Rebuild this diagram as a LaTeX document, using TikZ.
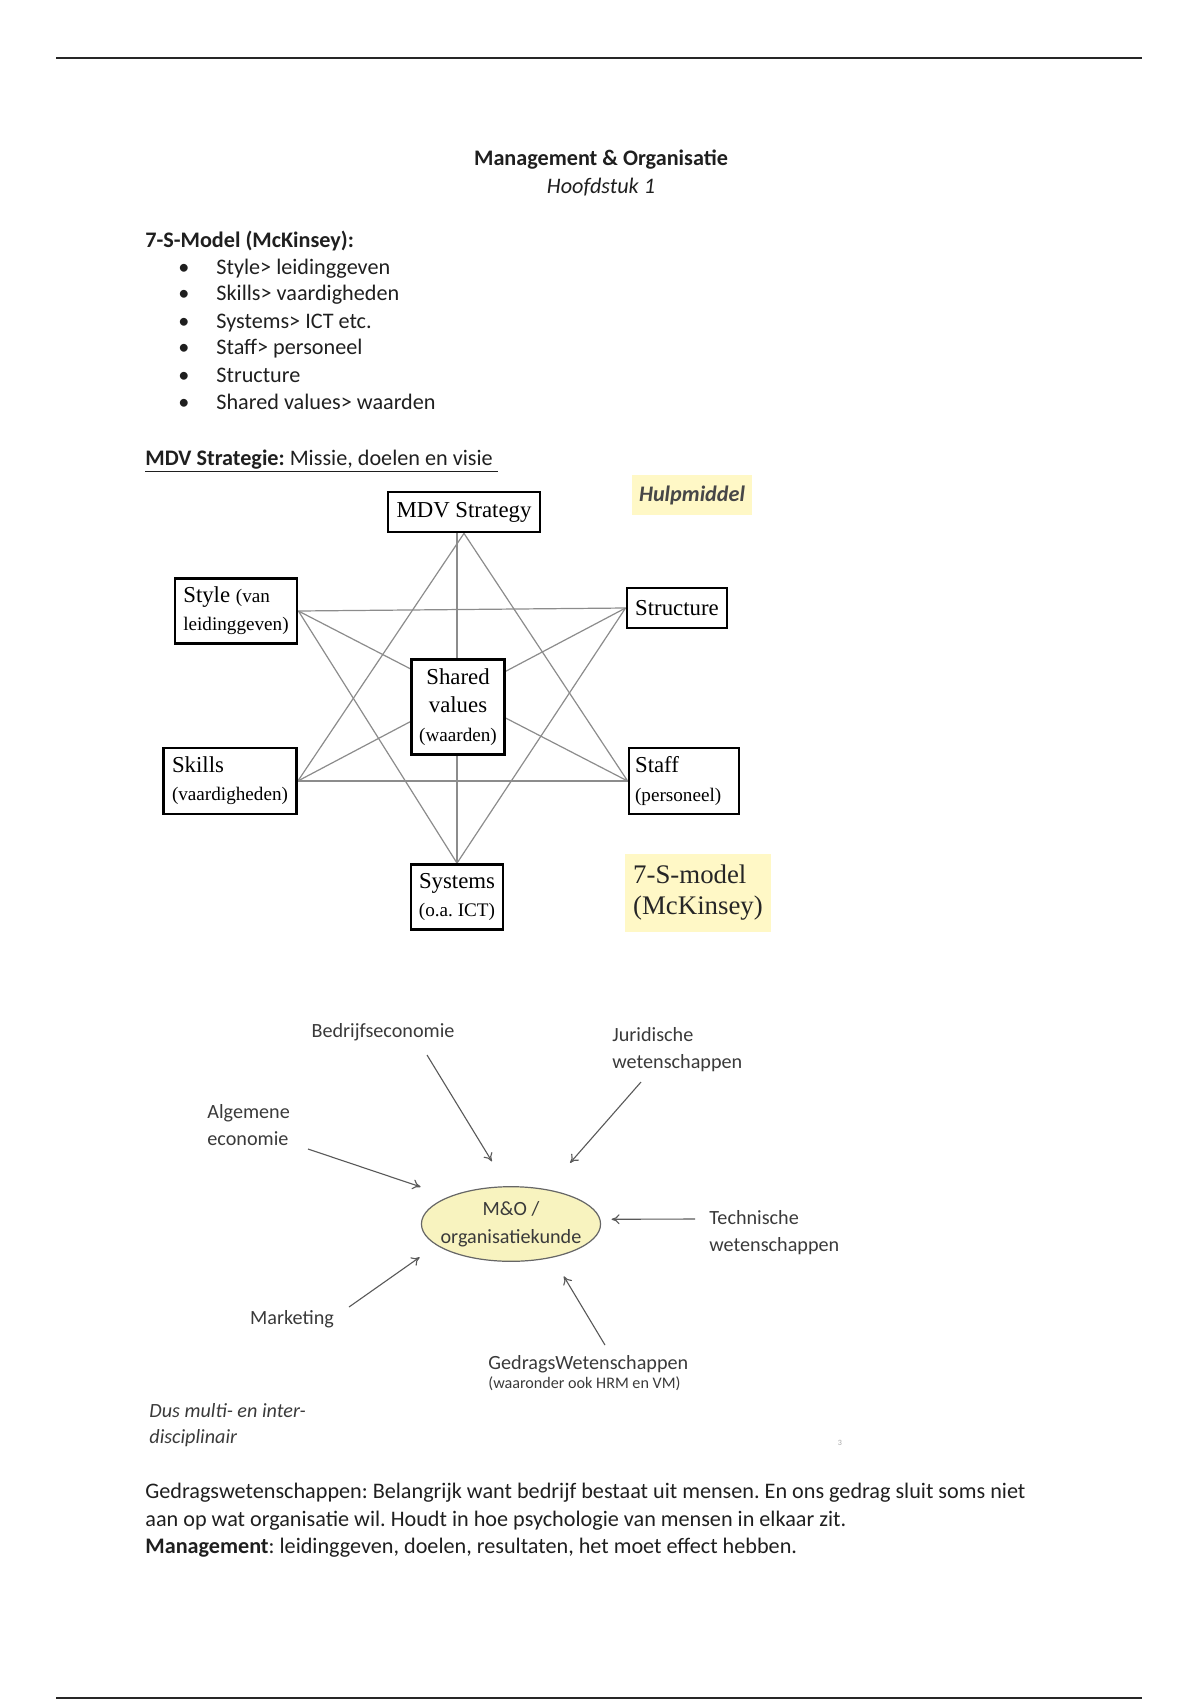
\documentclass[tikz,border=0pt]{standalone}
\usepackage{fontspec}
\setmainfont{Carlito}
\newfontfamily\tnr{Liberation Serif}
\usepackage{tikz}
\usetikzlibrary{shapes.geometric,arrows.meta,backgrounds}
\definecolor{hlyellow}{HTML}{FFF8C6}
\definecolor{mofill}{HTML}{F8F3BF}
\definecolor{labelgray}{HTML}{3A3A3A}
\newcommand\smtnr{\fontsize{9.5}{14}\selectfont}
\frenchspacing

\begin{document}
\begin{tikzpicture}[x=0.4958pt,y=-0.4958pt,
  txt/.style={anchor=base west,inner sep=0pt,font=\fontsize{11}{13.5}\selectfont,text=black!88},
  sbox/.style={draw,rectangle,line width=1.4pt,fill=white,inner sep=0pt,font=\tnr\fontsize{11.3}{14}\selectfont},
  sline/.style={draw=black!45,line width=0.6pt},
  hl/.style={fill=hlyellow,inner sep=0pt},
  lbl/.style={inner sep=0pt,font=\fontsize{10}{13.4}\selectfont,text=labelgray,align=left},
  arr/.style={draw=black!65,line width=0.55pt,-{To[length=4pt,width=5pt]}}]
\useasboundingbox (0,0) rectangle (1200,1700);
% page rules
\draw[line width=1.1pt,black!85] (56,58) -- (1142,58);
\draw[line width=1.1pt,black!85] (56,1698) -- (1142,1698);

% header
\node [txt,anchor=base,font=\bfseries\fontsize{11}{13.5}\selectfont] (title) at(601,165){Management \& Organisatie};
\node [txt,anchor=base,font=\itshape\fontsize{11}{13.5}\selectfont] (chapter) at(601,193){Hoofdstuk 1};

% 7-S list
\node [txt,font=\bfseries\fontsize{11}{13.5}\selectfont] (smodel) at(145,247){7-S-Model (McKinsey):};
\foreach \yb/\itm [count=\i] in {274/Style> leidinggeven,300/Skills> vaardigheden,328/Systems> ICT etc.,354/Staff> personeel,382/Structure,409/Shared values> waarden}{
  \node [txt,anchor=base] (dot\i) at(184,\yb){\textbullet};
  \node [txt] (item\i) at(216,\yb){\itm};
}
\node [txt] (mdvline) at(145,465){\underline{\textbf{MDV Strategie:} Missie, doelen en visie\ }};

% 7-S model
\node [sbox,minimum width=75.4pt,minimum height=19.8pt] (mdv) at(464,512){MDV Strategy};
\node [sbox,minimum width=60.5pt,minimum height=32.2pt,align=left] (style) at(236,611){Style {\smtnr (van}\\{\smtnr leidinggeven)}};
\node [sbox,minimum width=49.6pt,minimum height=19.8pt] (structure) at(677,608){Structure};
\node [sbox,minimum width=46.1pt,minimum height=47.1pt,align=center] (shared) at(458,707){Shared\\values\\{\smtnr (waarden)}};
\node [sbox,minimum width=65.9pt,minimum height=32.7pt,align=left] (skills) at(230,781){Skills\\{\smtnr (vaardigheden)}};
\node [sbox,minimum width=54.5pt,minimum height=32.7pt,text width=48.5pt,align=left] (staff) at(684,781){Staff\\{\smtnr (personeel)}};
\node [sbox,minimum width=45.6pt,minimum height=32.2pt,align=center] (systems) at(457,897){Systems\\{\smtnr (o.a. ICT)}};
\begin{scope}[on background layer]
\foreach \a/\b in {mdv.south/skills.east,mdv.south/staff.west,skills.east/staff.west,
  style.east/structure.west,style.east/systems.north,structure.west/systems.north,
  style.east/staff.west,skills.east/structure.west,mdv.south -| systems.north/systems.north}
  \draw[sline] (\a) -- (\b);
\end{scope}
\node [hl,minimum width=59.5pt,minimum height=19.8pt,font=\bfseries\itshape\fontsize{11}{13.5}\selectfont,text=black!72] (hulp) at(692,495){Hulpmiddel};
\node [hl,minimum width=71.9pt,minimum height=38.7pt,align=left,font=\tnr\fontsize{13.3}{15.4}\selectfont,text=black!85] (ssmodel) at(698,893){7-S-model\\(McKinsey)};

% M&O disciplines
\node [draw=black!60,ellipse,fill=mofill,line width=0.6pt,inner xsep=-3.5pt,inner ysep=0pt,minimum height=37pt,align=center,font=\fontsize{10}{13.8}\selectfont,text=labelgray] (mo) at(511,1224){M\&O /\\organisatiekunde};
\node [lbl,anchor=base] (bedrijf) at(383,1037){Bedrijfseconomie};
\node [lbl,anchor=west] (jur) at(612,1050){Juridische\\wetenschappen};
\node [lbl,anchor=west] (alg) at(207,1125){Algemene\\economie};
\node [lbl,anchor=west] (tech) at(709,1233){Technische\\wetenschappen};
\node [lbl,anchor=base] (mkt) at(292,1324){Marketing};
\node [lbl,anchor=base west] (gedrag) at(488,1369){GedragsWetenschappen};
\node [lbl,anchor=base west,font=\fontsize{8}{10}\selectfont] (gedragsub) at(488,1388){(waaronder ook HRM en VM)};
\node [lbl,anchor=west,font=\itshape\fontsize{10}{12.9}\selectfont] (dus) at(149,1425){Dus multi- en inter-\\disciplinair};
\node [inner sep=0pt,font=\fontsize{4}{5}\selectfont,text=black!35] (pagemark) at(840,1443){3};
\coordinate (bedrijf-t) at(427,1055);
\coordinate (jur-t) at(641,1082);
\coordinate (alg-t) at(308,1149);
\coordinate (tech-t) at(695,1219);
\coordinate (mkt-t) at(349,1307);
\coordinate (gedrag-t) at(605,1345);
\foreach \src/\ang/\gap in {bedrijf/96/14.4pt,jur/44/17.4pt,alg/156/14.9pt,tech/3/5.5pt,mkt/196/10.2pt,gedrag/321/10.8pt}
  \draw[arr,shorten >=\gap] (\src-t) -- (mo.\ang);

% closing text
\node [txt] (par1) at(145,1498){Gedragswetenschappen: Belangrijk want bedrijf bestaat uit mensen. En ons gedrag sluit soms niet};
\node [txt] (par2) at(145,1526){aan op wat organisatie wil. Houdt in hoe psychologie van mensen in elkaar zit.};
\node [txt] (par3) at(145,1553){\textbf{Management}: leidinggeven, doelen, resultaten, het moet effect hebben.};

\end{tikzpicture}
\end{document}
